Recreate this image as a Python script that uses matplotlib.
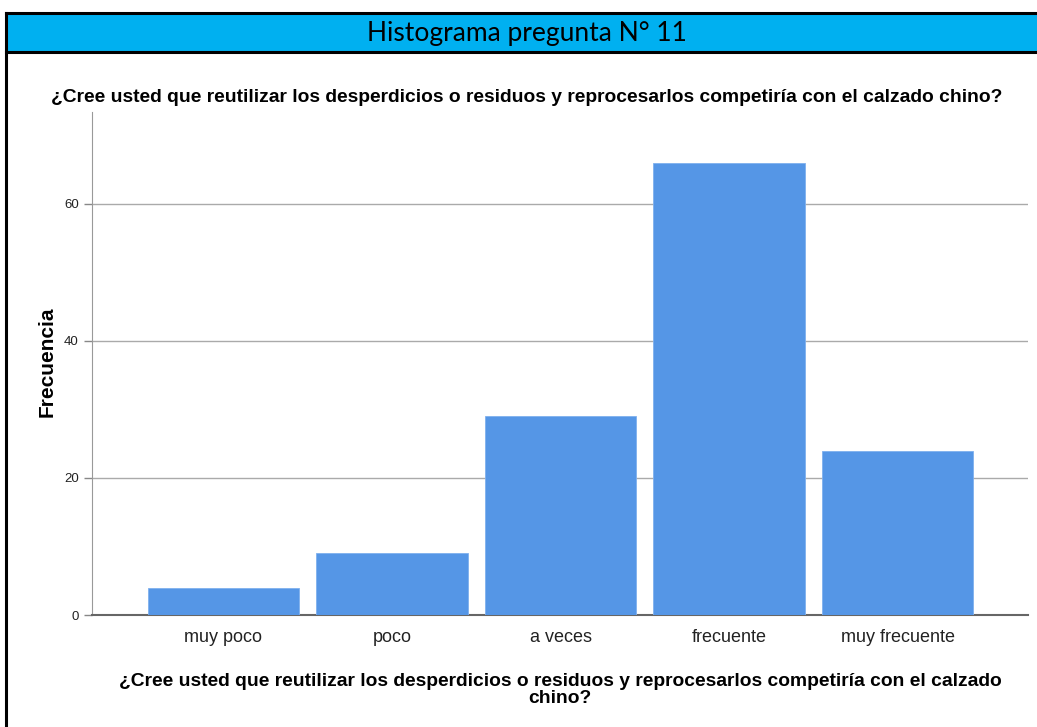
import matplotlib
matplotlib.use("Agg")
import matplotlib.pyplot as plt
from matplotlib.patches import Rectangle
from matplotlib.lines import Line2D

categories = ["muy poco", "poco", "a veces", "frecuente", "muy frecuente"]
frequencies = [4, 9, 29, 66, 24]
y_ticks = [0, 20, 40, 60]
header = "Histograma pregunta N° 11"
question = "¿Cree usted que reutilizar los desperdicios o residuos y reprocesarlos competiría con el calzado chino?"
xlabel = "¿Cree usted que reutilizar los desperdicios o residuos y reprocesarlos competiría con el calzado\nchino?"

W, H = 1037, 727
fig = plt.figure(figsize=(W / 100, H / 100), dpi=100)
sans = ["Liberation Sans", "DejaVu Sans"]

# Header band and frame
fig.patches.append(Rectangle((6 / W, 1 - 52 / H), (W - 6) / W, 39 / H, transform=fig.transFigure,
                             facecolor="#00B0F0", edgecolor="none", zorder=0))
for (x0, y0, x1, y1) in [(6, 13, W, 13), (6, 52, W, 52), (6, 13, 6, H)]:
    fig.lines.append(Line2D([x0 / W, x1 / W], [1 - y0 / H, 1 - y1 / H], transform=fig.transFigure,
                            color="black", linewidth=2.2))
fig.text(527 / W, 1 - 33 / H, header, ha="center", va="center", fontsize=19,
         family=["Lato", "DejaVu Sans"])
fig.text(527 / W, 1 - 97 / H, question, ha="center", va="center", fontsize=13.85,
         fontweight="bold", family=sans)

ax = fig.add_axes([92 / W, 1 - 615 / H, (1028 - 92) / W, (615 - 112) / H])
x = list(range(len(categories)))
ax.bar(x, frequencies, width=0.9, color="#5596E6", edgecolor="#7FB0EE", linewidth=0.6, zorder=3)
ax.set_xlim(-0.78, 4.774)
ax.set_ylim(0, 73.4)
ax.set_yticks(y_ticks)
ax.set_yticklabels([str(v) for v in y_ticks], fontsize=9.5, color="#222222", family=sans)
ax.set_xticks(x)
ax.set_xticklabels(categories, fontsize=13, color="#222222", family=sans)
ax.tick_params(axis="x", length=0, pad=10)
ax.tick_params(axis="y", length=6, color="#888888", width=1)
ax.yaxis.grid(True, color="#AAAAAA", linewidth=1, zorder=0)
for s in ["top", "right"]:
    ax.spines[s].set_visible(False)
ax.spines["left"].set_color("#999999")
ax.spines["bottom"].set_color("#666666")
ax.spines["bottom"].set_linewidth(1.5)
ax.set_ylabel("Frecuencia", fontsize=15, fontweight="bold", family=sans, va="center")
ax.yaxis.set_label_coords(-0.048, 0.503)
fig.text(560 / W, 1 - 690 / H, xlabel, ha="center", va="center", fontsize=13.9, fontweight="bold",
         family=sans, linespacing=0.95)

fig.savefig("out.png", dpi=100)
